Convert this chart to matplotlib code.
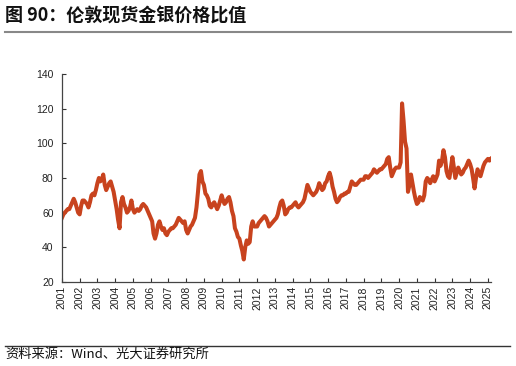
import matplotlib
matplotlib.use("Agg")
import matplotlib.pyplot as plt
import matplotlib.dates as mdates
from matplotlib.lines import Line2D
import datetime as dt

plt.rcParams['font.family'] = ['Liberation Sans', 'DejaVu Sans']

title = "图 90：伦敦现货金银价格比值"
source = "资料来源：Wind、光大证券研究所"

years = list(range(2001, 2026))
ratio_by_year = {
    2001: [57, 59, 60, 61, 62, 62, 64, 66, 68, 66, 63, 60],
    2002: [59, 64, 67, 67, 66, 65, 63, 66, 70, 71, 70, 73],
    2003: [77, 80, 78, 79, 82, 76, 73, 75, 77, 78, 75, 72],
    2004: [67, 62, 56, 51, 66, 69, 65, 63, 60, 61, 63, 67],
    2005: [62, 60, 61, 62, 61, 62, 64, 65, 64, 63, 61, 59],
    2006: [57, 55, 48, 45, 48, 53, 55, 52, 50, 51, 48, 47],
    2007: [49, 50, 51, 51, 52, 53, 55, 57, 56, 55, 54, 55],
    2008: [50, 48, 50, 52, 53, 55, 57, 63, 72, 82, 84, 78],
    2009: [76, 71, 70, 68, 64, 63, 65, 66, 64, 62, 64, 67],
    2010: [70, 67, 65, 66, 68, 69, 66, 61, 58, 51, 49, 46],
    2011: [45, 41, 38, 33, 40, 44, 42, 43, 52, 55, 52, 52],
    2012: [52, 54, 55, 56, 57, 58, 57, 55, 52, 53, 54, 55],
    2013: [56, 57, 59, 63, 66, 67, 64, 59, 60, 62, 63, 63],
    2014: [64, 65, 66, 64, 63, 64, 65, 66, 68, 72, 76, 74],
    2015: [72, 71, 70, 71, 72, 74, 77, 75, 73, 74, 77, 78],
    2016: [81, 83, 80, 75, 72, 68, 66, 67, 69, 70, 70, 71],
    2017: [71, 72, 72, 75, 78, 77, 76, 76, 77, 78, 79, 79],
    2018: [79, 81, 81, 80, 81, 82, 83, 85, 84, 83, 84, 85],
    2019: [85, 86, 87, 88, 91, 92, 86, 81, 83, 85, 86, 86],
    2020: [86, 89, 123, 113, 101, 97, 72, 76, 82, 77, 72, 68],
    2021: [65, 66, 69, 68, 67, 70, 78, 80, 79, 77, 79, 81],
    2022: [78, 80, 82, 90, 87, 90, 96, 92, 84, 81, 80, 86],
    2023: [92, 86, 80, 83, 86, 84, 82, 83, 85, 86, 88, 90],
    2024: [88, 85, 80, 74, 80, 85, 83, 81, 84, 87, 89, 90],
    2025: [91, 90, 91],
}
yticks = [20, 40, 60, 80, 100, 120, 140]

dates = []
values = []
for y in years:
    for m, v in enumerate(ratio_by_year[y]):
        dates.append(dt.datetime(y, m + 1, 1))
        values.append(v)

fig = plt.figure(figsize=(5.16, 3.66), dpi=100)
ax = fig.add_axes([0.120, 0.2295, 0.832, 0.5685])
ax.plot(dates, values, color='#C8431E', lw=2.9, solid_joinstyle='round')

ax.set_ylim(20, 140)
ax.set_yticks(yticks)
ax.set_xlim(dt.datetime(2001, 1, 1), dt.datetime(2025, 3, 10))
ax.xaxis.set_major_locator(mdates.YearLocator(1))
ax.xaxis.set_major_formatter(mdates.DateFormatter('%Y'))
for lab in ax.get_xticklabels():
    lab.set_rotation(90)
ax.tick_params(axis='both', direction='in', length=3, width=0.8, colors='#333333',
               labelsize=7.5, labelcolor='#222222')
ax.tick_params(axis='x', pad=3)
ax.tick_params(axis='y', pad=6)
for s in ['top', 'right']:
    ax.spines[s].set_visible(False)
for s in ['left', 'bottom']:
    ax.spines[s].set_color('#444444')
    ax.spines[s].set_linewidth(0.9)

fig.text(0.010, 0.956, title, fontsize=13, fontweight='bold',
         family=['Noto Sans CJK SC', 'DejaVu Sans'], va='center', ha='left', color='#111111')
fig.add_artist(Line2D([0.010, 0.99], [1 - 31.5 / 366, 1 - 31.5 / 366], color='#888888', lw=1.5,
                      transform=fig.transFigure))
fig.add_artist(Line2D([0.010, 0.988], [1 - 345.5 / 366, 1 - 345.5 / 366], color='#333333', lw=1.0,
                      transform=fig.transFigure))
fig.text(0.010, 1 - 354 / 366, source, fontsize=9.5,
         family=['Noto Sans CJK SC', 'DejaVu Sans'], va='center', ha='left', color='#111111')

fig.savefig('out.png', dpi=100)
